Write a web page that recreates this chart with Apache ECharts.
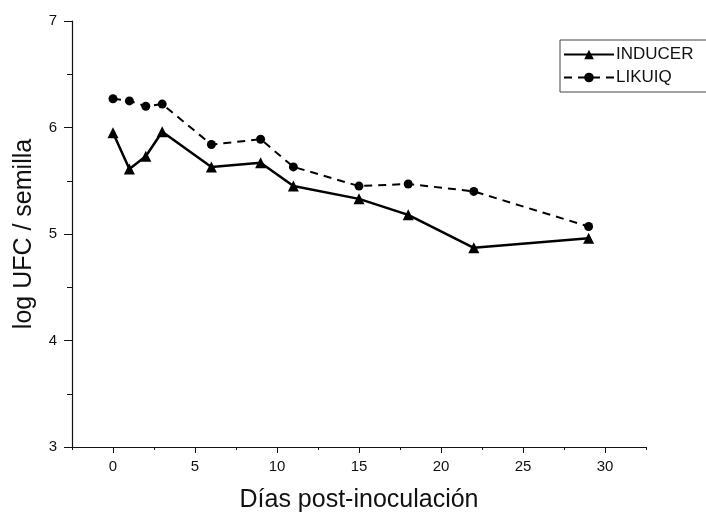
<!DOCTYPE html>
<html>
<head>
<meta charset="utf-8">
<script src="https://cdn.jsdelivr.net/npm/echarts@6/dist/echarts.min.js"></script>
<style>
* { margin: 0; padding: 0; }
#chart-container { width: 706px; height: 518px; background: #fff; }
</style>
</head>
<body>
<div id="chart-container"></div>
<script>
// days post-inoculation
const days = [0, 1, 2, 3, 6, 9, 11, 15, 18, 22, 29]
// log UFC / semilla
const inducer = [5.95, 5.61, 5.73, 5.96, 5.63, 5.67, 5.45, 5.33, 5.18, 4.87, 4.96]
const likuiq = [6.27, 6.25, 6.20, 6.22, 5.84, 5.89, 5.63, 5.45, 5.47, 5.40, 5.07]
// labelled ticks
const xTicks = [0, 5, 10, 15, 20, 25, 30]
const yTicks = [3, 4, 5, 6, 7]

const chart = echarts.init(document.getElementById('chart-container'))

const toPairs = (vals) => days.map((d, i) => [d, vals[i]])

const fontFamily = 'Liberation Sans, Arial, sans-serif'
const ink = '#111'

chart.setOption({
  animation: false,
  backgroundColor: '#fff',
  textStyle: { fontFamily: fontFamily },
  grid: { left: 72, top: 21, right: 60, bottom: 70 },
  legend: {
    orient: 'vertical',
    left: 560,
    top: 40,
    padding: [6, 40, 6, 3],
    itemGap: 6,
    itemWidth: 50,
    itemHeight: 12,
    borderColor: '#444',
    borderWidth: 1,
    textStyle: { color: ink, fontSize: 17, fontFamily: fontFamily, padding: [0, 0, 0, -3] },
    data: ['INDUCER', 'LIKUIQ']
  },
  xAxis: [
    {
      // axis line + minor ticks
      type: 'value',
      min: -2.5,
      max: 32.5,
      interval: 2.5,
      position: 'bottom',
      axisLine: { onZero: false, lineStyle: { color: ink, width: 1.2 } },
      axisTick: { inside: false, length: 3, lineStyle: { color: ink } },
      axisLabel: { show: false },
      splitLine: { show: false }
    },
    {
      // major ticks + labels
      type: 'value',
      min: -2.5,
      max: 32.5,
      position: 'bottom',
      name: 'Días post-inoculación',
      nameLocation: 'middle',
      nameGap: 41,
      nameTextStyle: { fontSize: 25, color: ink },
      axisLine: { show: false, onZero: false },
      axisTick: { show: true, customValues: xTicks, length: 6, lineStyle: { color: ink } },
      axisLabel: { customValues: xTicks, color: ink, fontSize: 15, margin: 12 },
      splitLine: { show: false }
    }
  ],
  yAxis: [
    {
      type: 'value',
      min: 3,
      max: 7,
      interval: 0.5,
      position: 'left',
      axisLine: { show: true, onZero: false, lineStyle: { color: ink, width: 1.2 } },
      axisTick: { show: true, inside: false, length: 5, lineStyle: { color: ink } },
      axisLabel: { show: false },
      splitLine: { show: false }
    },
    {
      type: 'value',
      min: 3,
      max: 7,
      position: 'left',
      name: 'log UFC / semilla',
      nameLocation: 'middle',
      nameGap: 35,
      nameTextStyle: { fontSize: 25, color: ink },
      axisLine: { show: false, onZero: false },
      axisTick: { show: true, customValues: yTicks, length: 8, lineStyle: { color: ink } },
      axisLabel: { customValues: yTicks, color: ink, fontSize: 15, margin: 15 },
      splitLine: { show: false }
    }
  ],
  series: [
    {
      name: 'INDUCER',
      type: 'line',
      xAxisIndex: 0,
      yAxisIndex: 0,
      data: toPairs(inducer),
      symbol: 'triangle',
      symbolSize: 11,
      itemStyle: { color: '#000' },
      lineStyle: { color: '#000', width: 2.5 }
    },
    {
      name: 'LIKUIQ',
      type: 'line',
      xAxisIndex: 0,
      yAxisIndex: 0,
      data: toPairs(likuiq),
      symbol: 'circle',
      symbolSize: 9,
      itemStyle: { color: '#000' },
      lineStyle: { color: '#000', width: 2, type: [8, 6] }
    }
  ]
})
</script>
</body>
</html>
